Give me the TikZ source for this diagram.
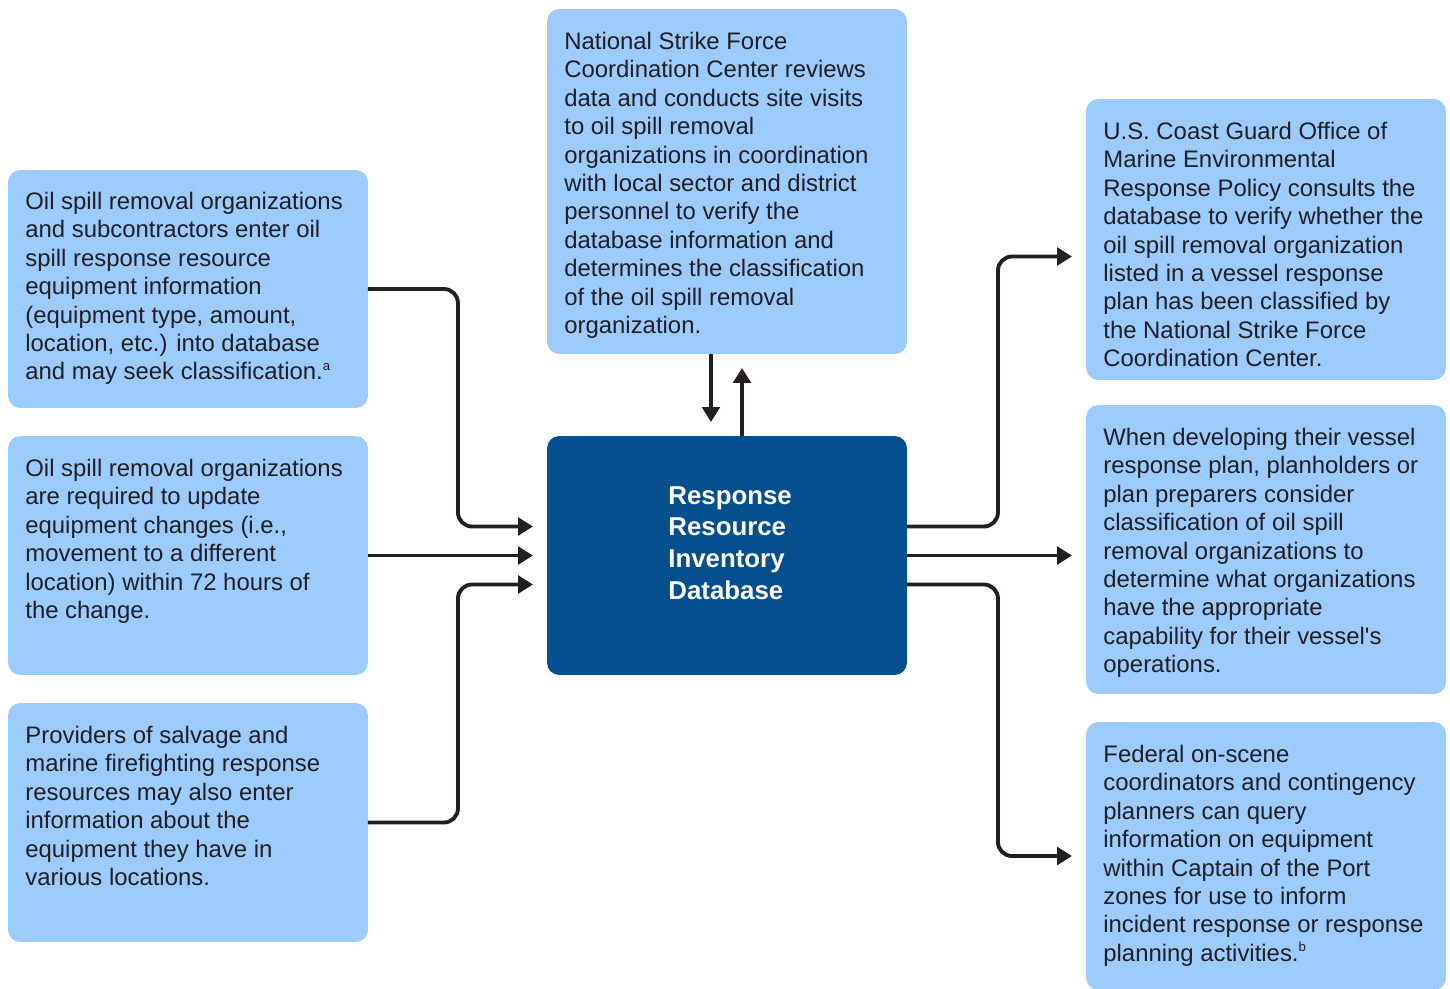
\documentclass[tikz,border=0pt]{standalone}
\usepackage{fontspec}
\setmainfont{Liberation Sans}
\usepackage{tikz}
\usepackage{xcolor}
\usetikzlibrary{calc}
\usetikzlibrary{positioning}
\usetikzlibrary{arrows.meta}

\definecolor{lightblue}{HTML}{9BCBFF}
\definecolor{darkblue}{HTML}{054F8F}
\definecolor{inkblack}{HTML}{231F20}

\newcommand{\notemark}[1]{\raisebox{0.75ex}{\fontsize{7.5pt}{7.5pt}\selectfont #1}}

\tikzset{
  infobox/.style={fill=lightblue, rounded corners=7pt, inner sep=0pt, outer sep=0pt, minimum width=7.2cm},
  dbbox/.style={fill=darkblue, rounded corners=7pt, inner sep=0pt, outer sep=0pt, minimum width=7.2cm},
  infotext/.style={anchor=north west, inner sep=0pt, align=left, text=inkblack,
    font=\fontsize{13.6pt}{16.2pt}\selectfont},
  dbtext/.style={anchor=north west, inner sep=0pt, align=left, text=white,
    font=\fontsize{14.7pt}{18pt}\selectfont\bfseries},
  flow/.style={draw=inkblack, line width=2.2pt, rounded corners=8pt,
    -{Triangle[length=8.5pt,width=10pt]}, shorten >=8pt}
}

\begin{document}
\begin{tikzpicture}[x=0.02cm,y=-0.02cm]
\useasboundingbox (0,0) rectangle (1450,988);

% boxes
\node[infobox, minimum height=4.76cm] (lb1) at (188,289) {};
\node[infobox, minimum height=4.78cm] (lb2) at (188,555.5) {};
\node[infobox, minimum height=4.78cm] (lb3) at (188,822.5) {};
\node[infobox, minimum height=6.9cm] (nsf) at (727,181.5) {};
\node[dbbox, minimum height=4.78cm] (db) at (727,555.5) {};
\node[infobox, minimum height=5.62cm] (rb1) at (1266,239.5) {};
\node[infobox, minimum height=5.78cm] (rb2) at (1266,549.5) {};
\node[infobox, minimum height=5.36cm] (rb3) at (1266,856) {};

% texts
\node[infotext] (lb1text) at ($(lb1.north west)+(17,21.5)$) {Oil spill removal organizations\\
and subcontractors enter oil\\
spill response resource\\
equipment information\\
(equipment type, amount,\\
location, etc.) into database\\
and may seek classification.\notemark{a}};
\node[infotext] (lb2text) at ($(lb2.north west)+(17,22.5)$) {Oil spill removal organizations\\
are required to update\\
equipment changes (i.e.,\\
movement to a different\\
location) within 72 hours of\\
the change.};
\node[infotext] (lb3text) at ($(lb3.north west)+(17,22.5)$) {Providers of salvage and\\
marine firefighting response\\
resources may also enter\\
information about the\\
equipment they have in\\
various locations.};
\node[infotext] (nsftext) at ($(nsf.north west)+(17,22.5)$) {National Strike Force\\
Coordination Center reviews\\
data and conducts site visits\\
to oil spill removal\\
organizations in coordination\\
with local sector and district\\
personnel to verify the\\
database information and\\
determines the classification\\
of the oil spill removal\\
organization.};
\node[dbtext] (dbtext) at ($(db.north west)+(121,50)$) {Response\\
Resource\\
Inventory\\
Database};
\node[infotext] (rb1text) at ($(rb1.north west)+(17,22.5)$) {U.S. Coast Guard Office of\\
Marine Environmental\\
Response Policy consults the\\
database to verify whether the\\
oil spill removal organization\\
listed in a vessel response\\
plan has been classified by\\
the National Strike Force\\
Coordination Center.};
\node[infotext] (rb2text) at ($(rb2.north west)+(17,22.5)$) {When developing their vessel\\
response plan, planholders or\\
plan preparers consider\\
classification of oil spill\\
removal organizations to\\
determine what organizations\\
have the appropriate\\
capability for their vessel\textquotesingle s\\
operations.};
\node[infotext] (rb3text) at ($(rb3.north west)+(17,22.5)$) {Federal on-scene\\
coordinators and contingency\\
planners can query\\
information on equipment\\
within Captain of the Port\\
zones for use to inform\\
incident response or response\\
planning activities.\notemark{b}};

% connectors
\draw[flow] (lb1.east) -- ++(90,0) |- ($(db.west)+(0,-29)$);
\draw[flow] (lb2.east) -- (db.west);
\draw[flow] (lb3.east) -- ++(90,0) |- ($(db.west)+(0,29)$);
\draw[flow] ($(nsf.south)+(-16,0)$) -- ($(db.north)+(-16,0)$);
\draw[flow] ($(db.north)+(15,0)$) -- ($(nsf.south)+(15,0)$);
\draw[flow] ($(db.east)+(0,-29)$) -- ++(91,0) |- ($(rb1.west)+(0,17)$);
\draw[flow] (db.east) -- (db.east -| rb2.west);
\draw[flow] ($(db.east)+(0,29)$) -- ++(91,0) |- (rb3.west);
\end{tikzpicture}
\end{document}
